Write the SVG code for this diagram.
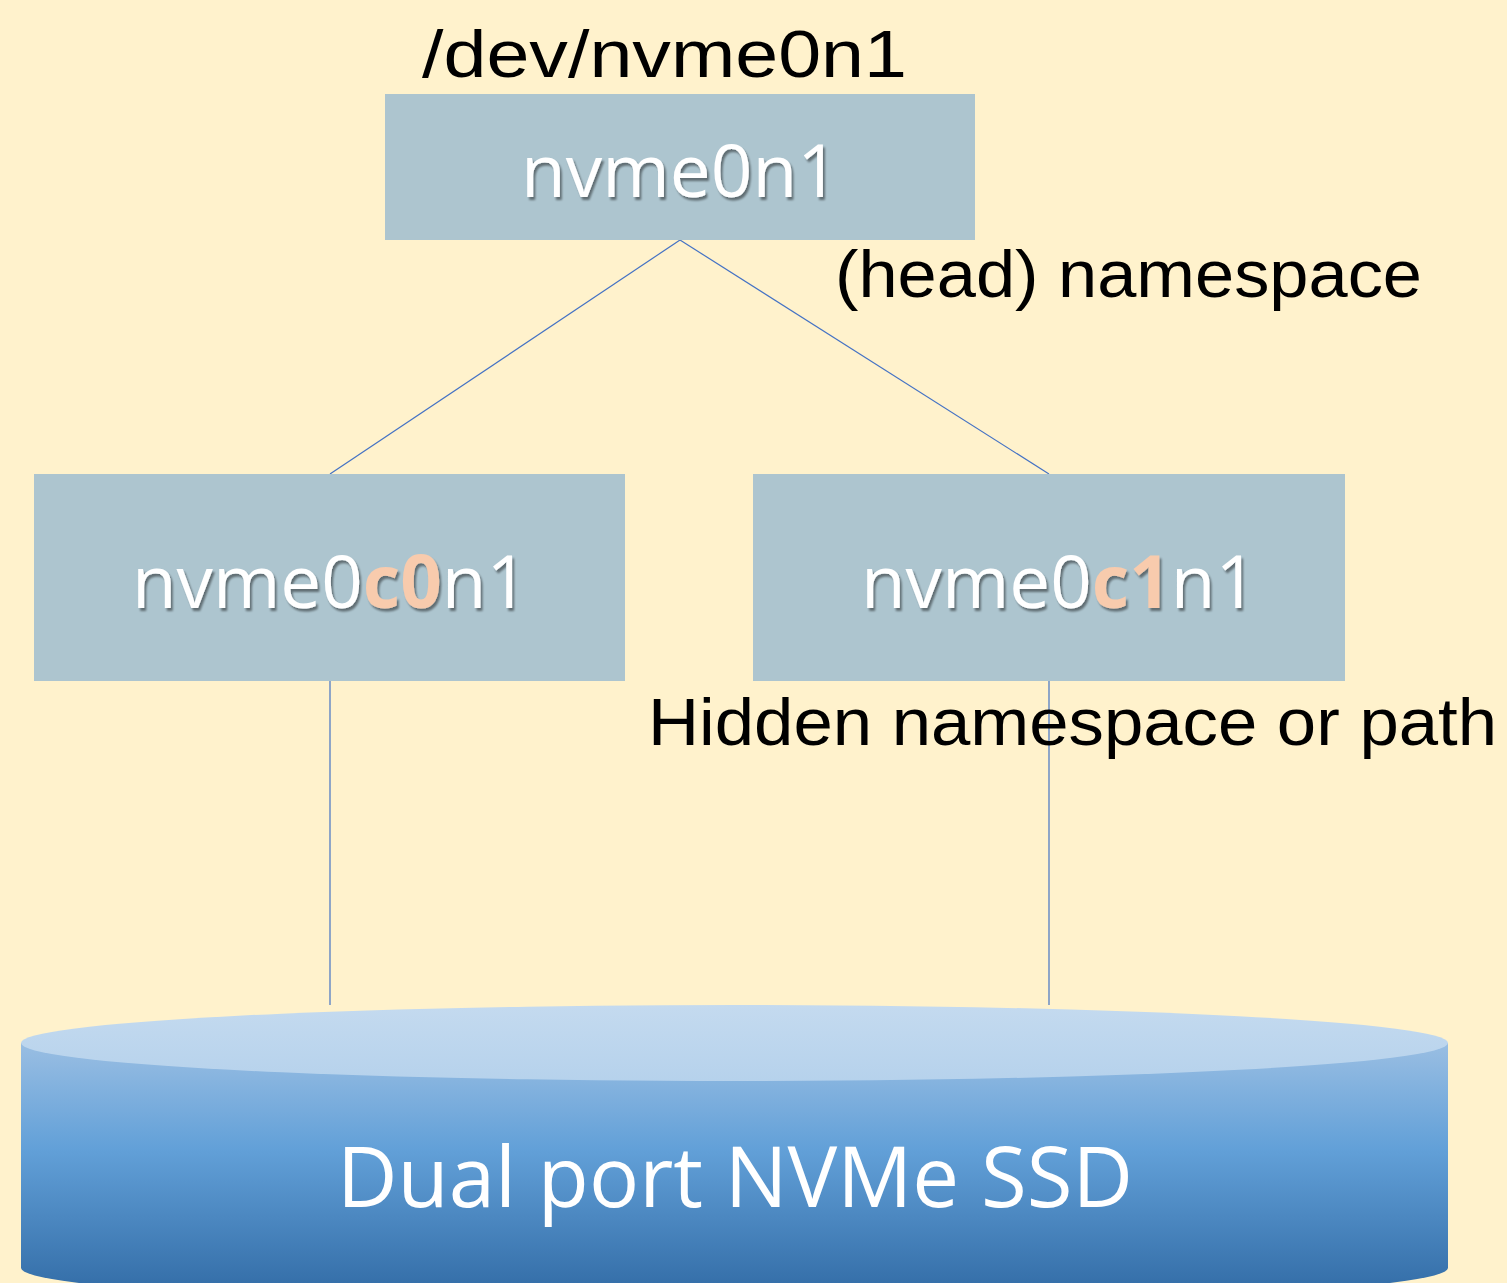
<svg xmlns="http://www.w3.org/2000/svg" width="1507" height="1283" viewBox="0 0 1507 1283">
  <defs>
    <style>
      .box { fill: #adc5cf; }
      .wire { stroke: #4472c4; stroke-width: 1.2; fill: none; }
      .label { font-family: "Liberation Sans", Arial, sans-serif; fill: #000; }
      .node-text { font-family: "Open Sans", "Noto Sans", sans-serif; fill: #ffffff; filter: url(#txtShadow); }
      .hl { fill: #f8cbad; font-weight: bold; }
    </style>
    <filter id="txtShadow" x="-10%" y="-20%" width="130%" height="150%">
      <feGaussianBlur in="SourceAlpha" stdDeviation="1.2" result="b"/>
      <feOffset in="b" dx="2" dy="3" result="o"/>
      <feComponentTransfer in="o" result="s"><feFuncA type="linear" slope="0.45"/></feComponentTransfer>
      <feMerge><feMergeNode in="s"/><feMergeNode in="SourceGraphic"/></feMerge>
    </filter>
    <linearGradient id="cylBody" x1="0" y1="1040" x2="0" y2="1283" gradientUnits="userSpaceOnUse">
      <stop offset="0" stop-color="#9bbfe3"/>
      <stop offset="0.45" stop-color="#62a0d8"/>
      <stop offset="1" stop-color="#3670aa"/>
    </linearGradient>
    <linearGradient id="cylTop" x1="0" y1="1005" x2="0" y2="1081" gradientUnits="userSpaceOnUse">
      <stop offset="0" stop-color="#c4daef"/>
      <stop offset="1" stop-color="#b6d2ec"/>
    </linearGradient>
  </defs>

  <rect width="1507" height="1283" fill="#fff2cc"/>

  <!-- connectors -->
  <g id="connectors">
    <line class="wire" x1="680" y1="240" x2="330" y2="474"/>
    <line class="wire" x1="680" y1="240" x2="1049" y2="474"/>
    <line class="wire" x1="330" y1="681" x2="330" y2="1005"/>
    <line class="wire" x1="1049" y1="681" x2="1049" y2="1005"/>
  </g>

  <!-- head namespace -->
  <g id="node-head">
    <rect class="box" x="385" y="94" width="590" height="146"/>
    <text class="node-text" x="680" y="197" font-size="74" text-anchor="middle" textLength="318" lengthAdjust="spacingAndGlyphs">nvme0n1</text>
  </g>

  <!-- path through controller 0 -->
  <g id="node-c0">
    <rect class="box" x="34" y="474" width="591" height="207"/>
    <text class="node-text" x="132" y="608" font-size="74" textLength="396" lengthAdjust="spacingAndGlyphs">nvme0<tspan class="hl">c0</tspan>n1</text>
  </g>

  <!-- path through controller 1 -->
  <g id="node-c1">
    <rect class="box" x="753" y="474" width="592" height="207"/>
    <text class="node-text" x="861" y="608" font-size="74" textLength="396" lengthAdjust="spacingAndGlyphs">nvme0<tspan class="hl">c1</tspan>n1</text>
  </g>

  <!-- storage device -->
  <g id="node-ssd">
    <path d="M21,1043 L21,1268 A713.5,38 0 0 0 1448,1268 L1448,1043 Z" fill="url(#cylBody)"/>
    <ellipse cx="734.5" cy="1043" rx="713.5" ry="38" fill="url(#cylTop)"/>
    <text x="735" y="1207" font-family="'Open Sans', 'Noto Sans', sans-serif" font-size="84" fill="#ffffff" text-anchor="middle" textLength="796" lengthAdjust="spacingAndGlyphs">Dual port NVMe SSD</text>
  </g>

  <!-- annotations -->
  <g id="labels">
    <text class="label" x="422" y="77" font-size="67" textLength="485" lengthAdjust="spacingAndGlyphs">/dev/nvme0n1</text>
    <text class="label" x="835" y="297" font-size="67" textLength="587" lengthAdjust="spacingAndGlyphs">(head) namespace</text>
    <text class="label" x="648" y="745" font-size="67" textLength="849" lengthAdjust="spacingAndGlyphs">Hidden namespace or path</text>
  </g>
</svg>
